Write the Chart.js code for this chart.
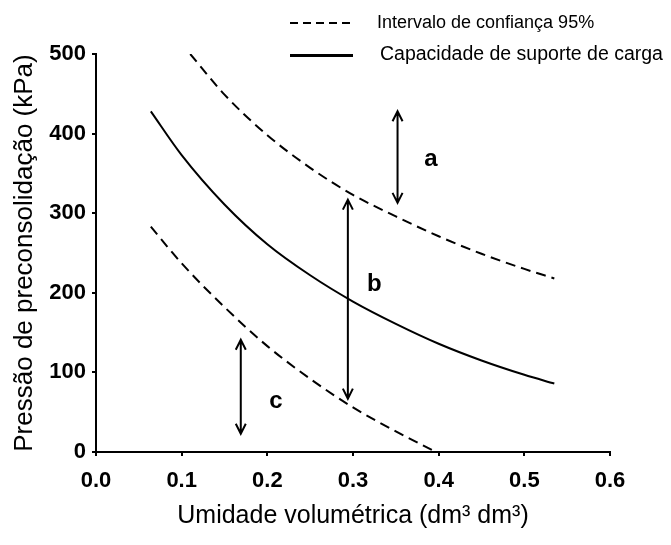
<!DOCTYPE html>
<html>
<head>
<meta charset="utf-8">
<script src="https://cdn.jsdelivr.net/npm/chart.js@4.4.0/dist/chart.umd.min.js"></script>
<style>
    html, body { margin: 0; padding: 0; background: #fff; }
    #wrap { width: 671px; height: 545px; }
</style>
</head>
<body>
<div id="wrap"><canvas id="chart" width="671" height="545"></canvas></div>
<script>
// Curves (x = umidade volumétrica, y = pressão em kPa)
const xSolid = [0.064, 0.1, 0.15, 0.2, 0.25, 0.3, 0.35, 0.4, 0.45, 0.5, 0.535];
const ySolid = [428, 373, 311, 261, 222, 189, 161, 136, 115, 97, 86];

const xUpper = [0.11, 0.15, 0.2, 0.25, 0.3, 0.35, 0.4, 0.45, 0.5, 0.535];
const yUpper = [500, 449, 398, 357, 323, 296, 271, 249, 230, 218];

const xLower = [0.064, 0.1, 0.15, 0.2, 0.25, 0.3, 0.35, 0.397];
const yLower = [283, 237, 182, 133, 92, 56, 26, 0];

// Double arrows and their letters
const arrowX = [0.352, 0.294, 0.169];
const arrowTop = [428, 317, 141];
const arrowBottom = [313, 67, 23];
const letters = ["a", "b", "c"];
const letterX = [0.391, 0.325, 0.210];
const letterY = [367, 210, 63];

const xTicks = [0, 0.1, 0.2, 0.3, 0.4, 0.5, 0.6];
const yTicks = [0, 100, 200, 300, 400, 500];
const legendLabels = ["Intervalo de confiança 95%", "Capacidade de suporte de carga"];

const FONT = "'Liberation Sans', Arial, sans-serif";
const pts = (xs, ys) => xs.map((x, i) => ({ x: x, y: ys[i] }));

const lineStyle = {
    borderColor: "#000",
    borderWidth: 2,
    pointRadius: 0,
    fill: false,
    cubicInterpolationMode: "monotone"
};

// arrows, letters and the legend box at the top
const extras = {
    id: "extras",
    afterDraw(chart) {
        const { ctx, scales: { x, y } } = chart;
        ctx.save();
        ctx.strokeStyle = "#000";
        ctx.fillStyle = "#000";
        ctx.lineWidth = 2;
        arrowX.forEach((v, i) => {
            const px = x.getPixelForValue(v);
            const top = y.getPixelForValue(arrowTop[i]);
            const bot = y.getPixelForValue(arrowBottom[i]);
            ctx.beginPath();
            ctx.moveTo(px, top);
            ctx.lineTo(px, bot);
            ctx.moveTo(px - 5, top + 10);
            ctx.lineTo(px, top);
            ctx.lineTo(px + 5, top + 10);
            ctx.moveTo(px - 5, bot - 10);
            ctx.lineTo(px, bot);
            ctx.lineTo(px + 5, bot - 10);
            ctx.stroke();
        });

        ctx.font = "bold 24px " + FONT;
        ctx.textAlign = "center";
        ctx.textBaseline = "middle";
        letters.forEach((t, i) => {
            ctx.fillText(t, x.getPixelForValue(letterX[i]), y.getPixelForValue(letterY[i]));
        });

        // legend
        ctx.textAlign = "left";
        ctx.beginPath();
        ctx.setLineDash([8, 5]);
        ctx.moveTo(290, 23);
        ctx.lineTo(353, 23);
        ctx.stroke();
        ctx.setLineDash([]);
        ctx.lineWidth = 3;
        ctx.beginPath();
        ctx.moveTo(290, 55.5);
        ctx.lineTo(353, 55.5);
        ctx.stroke();
        ctx.font = "18px " + FONT;
        ctx.fillText(legendLabels[0], 377, 23);
        ctx.font = "19.5px " + FONT;
        ctx.fillText(legendLabels[1], 380, 55);
        ctx.restore();
    }
};

const axisCommon = {
    grid: { display: true, drawOnChartArea: false, drawTicks: true, tickLength: 4, color: "#000", lineWidth: 2 },
    border: { display: true, color: "#000", width: 2 },
    ticks: { color: "#000", font: { family: FONT, size: 22, weight: "bold" }, autoSkip: false, maxRotation: 0 }
};

new Chart(document.getElementById("chart"), {
    type: "line",
    data: {
        datasets: [
            Object.assign({ label: legendLabels[0], data: pts(xUpper, yUpper), borderDash: [10, 6] }, lineStyle),
            Object.assign({ label: legendLabels[1], data: pts(xSolid, ySolid) }, lineStyle),
            Object.assign({ label: legendLabels[0], data: pts(xLower, yLower), borderDash: [10, 6] }, lineStyle)
        ]
    },
    options: {
        responsive: false,
        animation: false,
        devicePixelRatio: 1,
        layout: { padding: { top: 54, right: 61, left: 0, bottom: 0 } },
        plugins: { legend: { display: false }, tooltip: { enabled: false } },
        scales: {
            x: {
                ...axisCommon,
                type: "linear",
                min: 0,
                max: 0.6,
                afterBuildTicks: s => { s.ticks = xTicks.map(v => ({ value: v })); },
                ticks: { ...axisCommon.ticks, padding: 12, callback: v => v.toFixed(1) },
                title: {
                    display: true,
                    text: "Umidade volumétrica (dm³ dm³)",
                    color: "#000",
                    font: { family: FONT, size: 25 },
                    padding: { top: 0, bottom: 14 }
                },
                afterFit: s => { s.height = 93; }
            },
            y: {
                ...axisCommon,
                type: "linear",
                min: 0,
                max: 500,
                afterBuildTicks: s => { s.ticks = yTicks.map(v => ({ value: v })); },
                ticks: { ...axisCommon.ticks, padding: 6 },
                title: {
                    display: true,
                    text: "Pressão de preconsolidação (kPa)",
                    color: "#000",
                    font: { family: FONT, size: 26 },
                    padding: { top: 9, bottom: 0 }
                },
                afterFit: s => { s.width = 96; }
            }
        }
    },
    plugins: [extras]
});
</script>
</body>
</html>
